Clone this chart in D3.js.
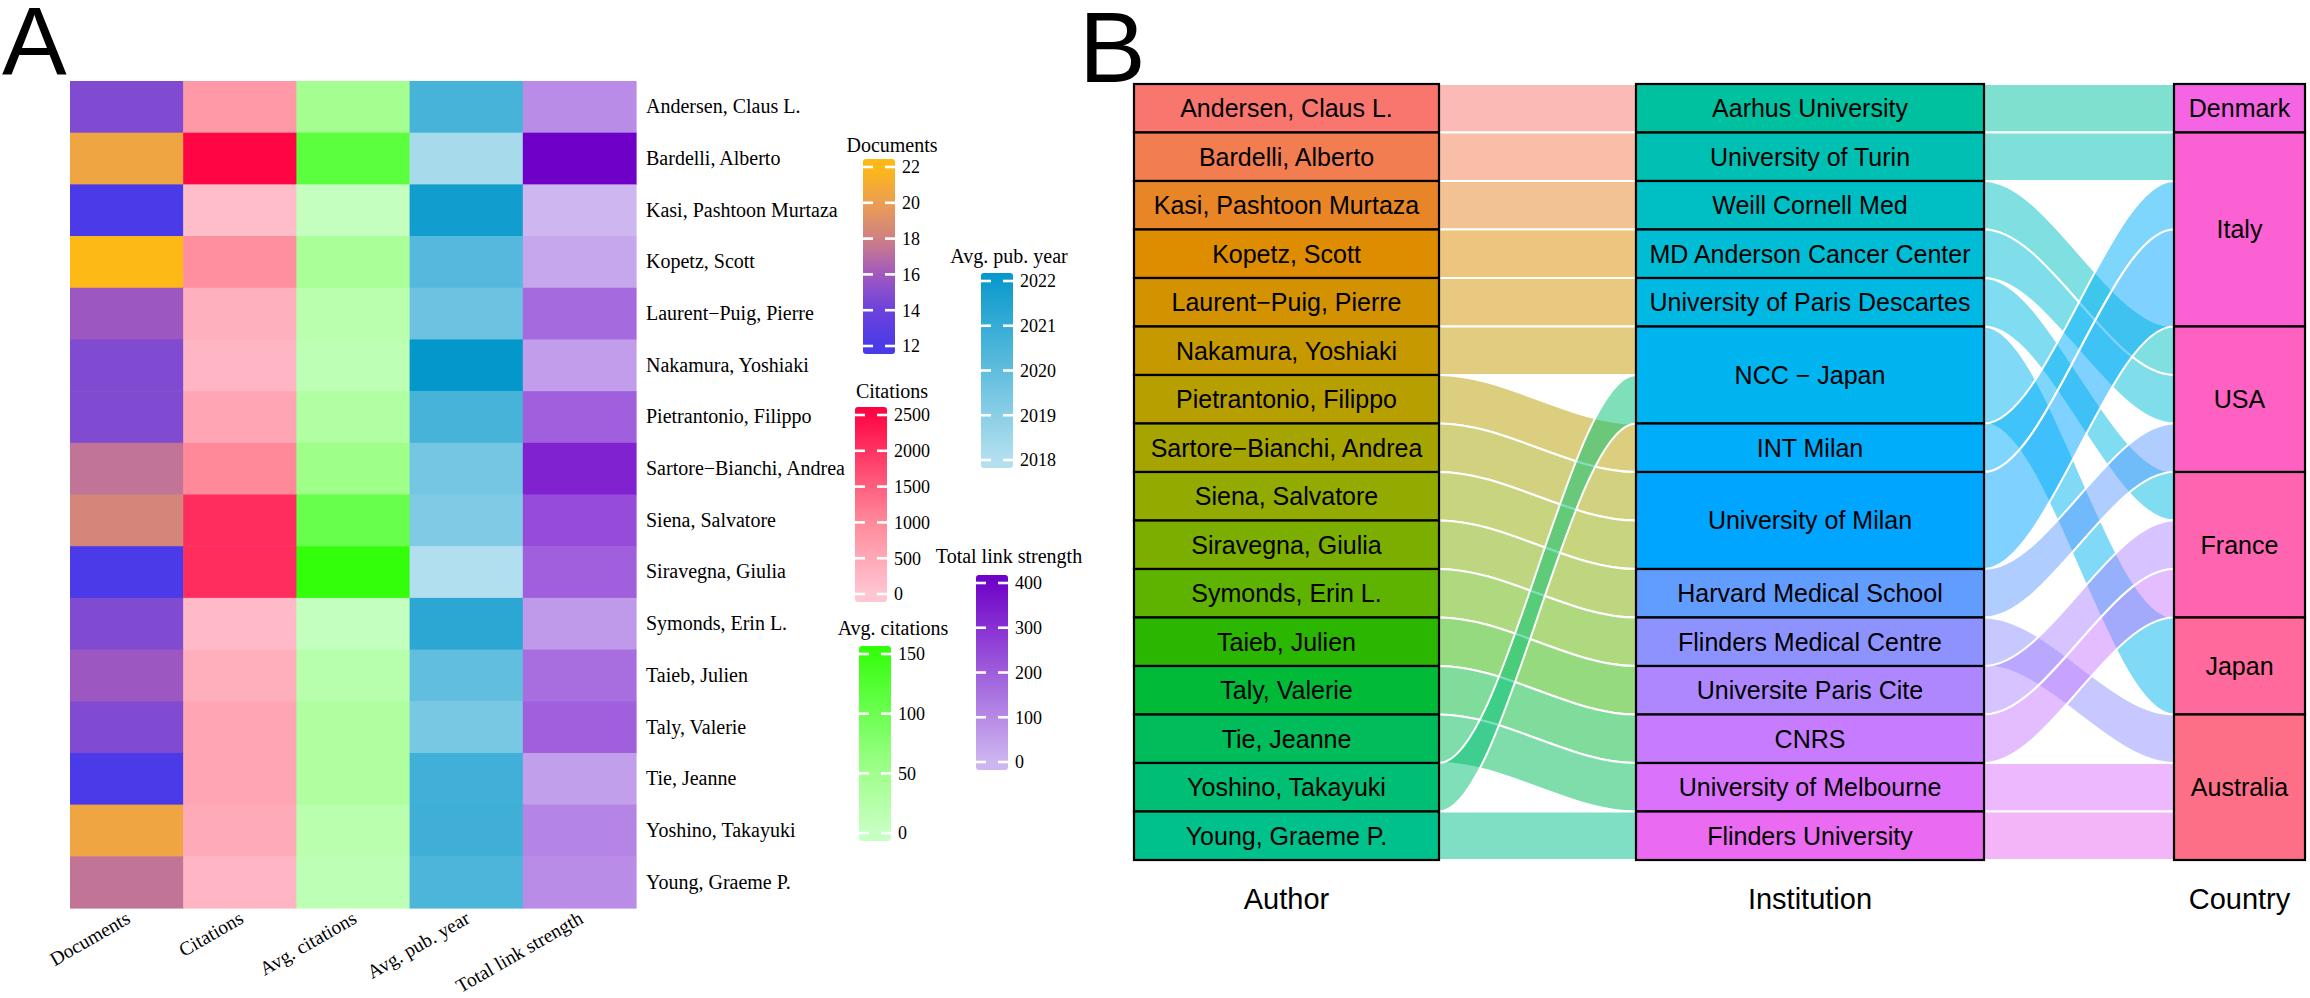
<!DOCTYPE html>
<html>
<head>
<meta charset="utf-8">
<script src="https://cdn.jsdelivr.net/npm/d3@7"></script>
<style>
  body { margin: 0; background: #fff; }
  svg { display: block; }
</style>
</head>
<body>
<div id="chart"></div>
<script>
// Panel A: heatmap of author metrics, with one colour bar per column
// Panel B: alluvial plot Author -> Institution -> Country

// ---- Panel A data ----
var authors = ["Andersen, Claus L.", "Bardelli, Alberto", "Kasi, Pashtoon Murtaza", "Kopetz, Scott",
  "Laurent\u2212Puig, Pierre", "Nakamura, Yoshiaki", "Pietrantonio, Filippo", "Sartore\u2212Bianchi, Andrea",
  "Siena, Salvatore", "Siravegna, Giulia", "Symonds, Erin L.", "Taieb, Julien", "Taly, Valerie",
  "Tie, Jeanne", "Yoshino, Takayuki", "Young, Graeme P."];
var metrics = ["Documents", "Citations", "Avg. citations", "Avg. pub. year", "Total link strength"];

var documents = [14.8, 20.5, 12, 22, 15.9, 14.8, 14.8, 17.4, 18.4, 12, 14.8, 15.9, 14.8, 12, 20.5, 17.4];
var citations = [750, 2540, 150, 930, 367, 283, 550, 1023, 2078, 2078, 217, 400, 550, 550, 467, 283];
var avgCitations = [48, 115, 5, 40, 20, 15, 31, 54, 105, 153, 6, 22, 33, 33, 20, 15];
var avgPubYear = [2020.6, 2018.3, 2021.87, 2020.28, 2019.7, 2022.2, 2020.6, 2019.5, 2019.24, 2018.05,
  2021.25, 2019.96, 2019.4, 2020.77, 2020.8, 2020.45];
var totalLinkStrength = [94, 410, 0, 34, 171, 56, 196, 333, 239, 196, 64, 162, 196, 51, 111, 94];

// colour bar tick labels
var documentTicks = [12, 14, 16, 18, 20, 22];
var citationTicks = [0, 500, 1000, 1500, 2000, 2500];
var avgCitationTicks = [0, 50, 100, 150];
var pubYearTicks = [2018, 2019, 2020, 2021, 2022];
var linkStrengthTicks = [0, 100, 200, 300, 400];

// ---- Panel B data ----
var institutions = ["Aarhus University", "University of Turin", "Weill Cornell Med", "MD Anderson Cancer Center",
  "University of Paris Descartes", "NCC \u2212 Japan", "INT Milan", "University of Milan", "Harvard Medical School",
  "Flinders Medical Centre", "Universite Paris Cite", "CNRS", "University of Melbourne", "Flinders University"];
// institution of each author (same order as authors)
var authorInstitution = ["Aarhus University", "University of Turin", "Weill Cornell Med", "MD Anderson Cancer Center",
  "University of Paris Descartes", "NCC \u2212 Japan", "INT Milan", "University of Milan", "University of Milan",
  "Harvard Medical School", "Flinders Medical Centre", "Universite Paris Cite", "CNRS", "University of Melbourne",
  "NCC \u2212 Japan", "Flinders University"];
var countries = ["Denmark", "Italy", "USA", "France", "Japan", "Australia"];
// country of each institution (same order as institutions)
var institutionCountry = ["Denmark", "Italy", "USA", "USA", "France", "Japan", "Italy", "Italy", "USA",
  "Australia", "France", "France", "Australia", "Australia"];

// Set SVG parameters
var svgWidth = 2310;
var svgHeight = 998;
var serif = "'Liberation Serif', 'Times New Roman', serif";
var sans = "'Liberation Sans', Arial, sans-serif";

var svg = d3.select("#chart")
  .append("svg")
  .attr("width", svgWidth)
  .attr("height", svgHeight);

// panel letters
svg.append("text").attr("x", 2).attr("y", 74)
  .style("font-family", sans).style("font-size", "97px").text("A");
svg.append("text").attr("x", 1079).attr("y", 82)
  .style("font-family", sans).style("font-size", "100px").text("B");

// ================= Panel A =================
var columns = [documents, citations, avgCitations, avgPubYear, totalLinkStrength];

var colorScales = [
  d3.scaleLinear().domain([12, 14, 16, 18, 20, 22])
    .range(["#4a3ae8", "#6c42dc", "#a058c0", "#cf8084", "#ec9e52", "#fdb916"]).clamp(true),
  d3.scaleLinear().domain([0, 1000, 2600])
    .range(["#ffc6d3", "#ff8a9a", "#ff0040"]).clamp(true),
  d3.scaleLinear().domain([0, 50, 100, 160])
    .range(["#c8ffc4", "#a2ff8e", "#6cff52", "#2cff00"]).clamp(true),
  d3.scaleLinear().domain([2018, 2022.3])
    .range(["#b4e0ef", "#0095cb"]).clamp(true),
  d3.scaleLinear().domain([0, 410])
    .range(["#ceb6f0", "#6e00c8"]).clamp(true)
];

var xBand = d3.scaleBand().domain(metrics).range([70, 636]);
var yBand = d3.scaleBand().domain(authors).range([81, 908]);

var cells = [];
authors.forEach(function (a, i) {
  metrics.forEach(function (m, j) {
    cells.push({ author: a, metric: m, col: j, value: columns[j][i] });
  });
});

var heat = svg.append("g");
heat.selectAll("rect")
  .data(cells)
  .enter()
  .append("rect")
  .attr("x", d => xBand(d.metric))
  .attr("y", d => yBand(d.author))
  .attr("width", xBand.bandwidth() + 0.6)
  .attr("height", yBand.bandwidth() + 0.6)
  .attr("fill", d => colorScales[d.col](d.value));

// row labels
var rowAxis = svg.append("g")
  .attr("transform", "translate(636,0)")
  .call(d3.axisRight(yBand).tickSize(0).tickPadding(10));
rowAxis.select(".domain").remove();
rowAxis.selectAll("text")
  .style("font-family", serif).style("font-size", "20px").attr("fill", "#000");

// column labels, rotated
var colAxis = svg.append("g")
  .attr("transform", "translate(0,908)")
  .call(d3.axisBottom(xBand).tickSize(0));
colAxis.select(".domain").remove();
colAxis.selectAll("text")
  .attr("x", 0).attr("y", 0).attr("dy", null)
  .attr("transform", "translate(5,14) rotate(-30)")
  .style("text-anchor", "end")
  .style("font-family", serif).style("font-size", "19.5px").attr("fill", "#000");

// colour bars
var legends = [
  { title: "Documents", ticks: documentTicks, col: 0, barX: 863, barTop: 159, titleX: 892, titleY: 152 },
  { title: "Citations", ticks: citationTicks, col: 1, barX: 855, barTop: 407, titleX: 892, titleY: 398 },
  { title: "Avg. citations", ticks: avgCitationTicks, col: 2, barX: 859, barTop: 646, titleX: 893, titleY: 635 },
  { title: "Avg. pub. year", ticks: pubYearTicks, col: 3, barX: 981, barTop: 273, titleX: 1009, titleY: 263 },
  { title: "Total link strength", ticks: linkStrengthTicks, col: 4, barX: 976, barTop: 575, titleX: 1009, titleY: 563 }
];
var barW = 32, barH = 195, barPad = 8;
var defs = svg.append("defs");

legends.forEach(function (lg, k) {
  var tMin = d3.min(lg.ticks), tMax = d3.max(lg.ticks);
  var yLeg = d3.scaleLinear().domain([tMin, tMax]).range([lg.barTop + barH - barPad, lg.barTop + barPad]);

  var grad = defs.append("linearGradient")
    .attr("id", "grad" + k)
    .attr("x1", 0).attr("y1", 1).attr("x2", 0).attr("y2", 0);
  d3.range(0, 1.0001, 0.05).forEach(function (f) {
    var v = yLeg.invert(lg.barTop + barH - f * barH);
    grad.append("stop").attr("offset", f).attr("stop-color", colorScales[lg.col](v));
  });

  var g = svg.append("g");
  g.append("text")
    .attr("x", lg.titleX).attr("y", lg.titleY)
    .attr("text-anchor", "middle")
    .style("font-family", serif).style("font-size", "20px")
    .text(lg.title);
  g.append("rect")
    .attr("x", lg.barX).attr("y", lg.barTop)
    .attr("width", barW).attr("height", barH)
    .attr("rx", 3)
    .attr("fill", "url(#grad" + k + ")");

  var t = g.selectAll(".tk").data(lg.ticks).enter().append("g")
    .attr("transform", d => "translate(0," + yLeg(d) + ")");
  t.append("line").attr("x1", lg.barX).attr("x2", lg.barX + 10)
    .attr("stroke", "#fff").attr("stroke-width", 2.6);
  t.append("line").attr("x1", lg.barX + barW - 10).attr("x2", lg.barX + barW)
    .attr("stroke", "#fff").attr("stroke-width", 2.6);
  t.append("text")
    .attr("x", lg.barX + barW + 7).attr("dy", "0.35em")
    .style("font-family", serif).style("font-size", "18px")
    .text(d => d);
});

// ================= Panel B =================
// ggplot-style hue palette (polar CIELUV, c = 100, l = 65)
function hueColor(h) {
  var hr = h * Math.PI / 180, c = 100, l = 65;
  var U = c * Math.cos(hr), V = c * Math.sin(hr);
  var Y = Math.pow((l + 16) / 116, 3);
  var up = U / (13 * l) + 0.1978398, vp = V / (13 * l) + 0.4683363;
  var X = Y * 9 * up / (4 * vp);
  var Z = Y * (12 - 3 * up - 20 * vp) / (4 * vp);
  var lin = [3.240479 * X - 1.537150 * Y - 0.498535 * Z,
    -0.969256 * X + 1.875992 * Y + 0.041556 * Z,
    0.055648 * X - 0.204043 * Y + 1.057311 * Z];
  var rgb = lin.map(function (v) {
    v = Math.max(0, Math.min(1, v));
    v = v <= 0.0031308 ? 12.92 * v : 1.055 * Math.pow(v, 1 / 2.4) - 0.055;
    return Math.round(v * 255);
  });
  return d3.rgb(rgb[0], rgb[1], rgb[2]).formatHex();
}
var nLevels = authors.length + institutions.length + countries.length;
function levelColor(k) { return hueColor(15 + 360 * k / nLevels); }

var unitY = d3.scaleLinear().domain([0, authors.length]).range([84, 860]);
var axes = [
  { name: "Author", x0: 1134, x1: 1439 },
  { name: "Institution", x0: 1636, x1: 1984 },
  { name: "Country", x0: 2174, x1: 2305 }
];

// strata
var instSize = institutions.map(inst => authorInstitution.filter(v => v === inst).length);
var instStart = [];
instSize.reduce(function (acc, s, j) { instStart[j] = acc; return acc + s; }, 0);
var countrySize = countries.map(c => d3.sum(institutions, (inst, j) => institutionCountry[j] === c ? instSize[j] : 0));
var countryStart = [];
countrySize.reduce(function (acc, s, j) { countryStart[j] = acc; return acc + s; }, 0);

var strata = [];
authors.forEach((a, i) => strata.push({ axis: 0, label: a, start: i, size: 1, color: levelColor(i) }));
institutions.forEach((a, j) => strata.push({ axis: 1, label: a, start: instStart[j], size: instSize[j],
  color: levelColor(authors.length + j) }));
countries.forEach((a, c) => strata.push({ axis: 2, label: a, start: countryStart[c], size: countrySize[c],
  color: levelColor(authors.length + institutions.length + c) }));

// flows
var flows = [];
authors.forEach(function (a, i) {
  var j = institutions.indexOf(authorInstitution[i]);
  var offset = authorInstitution.slice(0, i).filter(v => v === authorInstitution[i]).length;
  flows.push({ seg: 0, from: i, to: instStart[j] + offset, size: 1, color: levelColor(i) });
});
institutions.forEach(function (inst, j) {
  var c = countries.indexOf(institutionCountry[j]);
  var offset = d3.sum(institutions.slice(0, j), (v, k) => institutionCountry[k] === institutionCountry[j] ? instSize[k] : 0);
  flows.push({ seg: 1, from: instStart[j], to: countryStart[c] + offset, size: instSize[j],
    color: levelColor(authors.length + j) });
});

function curve(x0, ya, x1, yb) {
  var w = x1 - x0;
  return "C" + (x0 + w / 3) + "," + ya + " " + (x1 - w / 3) + "," + yb + " " + x1 + "," + yb;
}

var flowG = svg.append("g");
flows.forEach(function (f) {
  var x0 = axes[f.seg].x1, x1 = axes[f.seg + 1].x0;
  var y0t = unitY(f.from), y0b = unitY(f.from + f.size);
  var y1t = unitY(f.to), y1b = unitY(f.to + f.size);
  flowG.append("path")
    .attr("d", "M" + x0 + "," + y0t + curve(x0, y0t, x1, y1t) +
      "L" + x1 + "," + y1b + curve(x1, y1b, x0, y0b) + "Z")
    .attr("fill", f.color)
    .attr("fill-opacity", 0.5);
  flowG.append("path")
    .attr("d", "M" + x0 + "," + y0t + curve(x0, y0t, x1, y1t) +
      "M" + x0 + "," + y0b + curve(x0, y0b, x1, y1b))
    .attr("fill", "none")
    .attr("stroke", "#fff")
    .attr("stroke-width", 2);
});

var strataG = svg.append("g").selectAll("g")
  .data(strata)
  .enter()
  .append("g");
strataG.append("rect")
  .attr("x", d => axes[d.axis].x0)
  .attr("y", d => unitY(d.start))
  .attr("width", d => axes[d.axis].x1 - axes[d.axis].x0)
  .attr("height", d => unitY(d.start + d.size) - unitY(d.start))
  .attr("fill", d => d.color)
  .attr("stroke", "#000")
  .attr("stroke-width", 2.2);
strataG.append("text")
  .attr("x", d => (axes[d.axis].x0 + axes[d.axis].x1) / 2)
  .attr("y", d => unitY(d.start + d.size / 2))
  .attr("dy", "0.35em")
  .attr("text-anchor", "middle")
  .style("font-family", sans).style("font-size", "25px")
  .text(d => d.label);

svg.append("g").selectAll("text")
  .data(axes)
  .enter()
  .append("text")
  .attr("x", d => (d.x0 + d.x1) / 2)
  .attr("y", 909)
  .attr("text-anchor", "middle")
  .style("font-family", sans).style("font-size", "29px")
  .text(d => d.name);
</script>
</body>
</html>
